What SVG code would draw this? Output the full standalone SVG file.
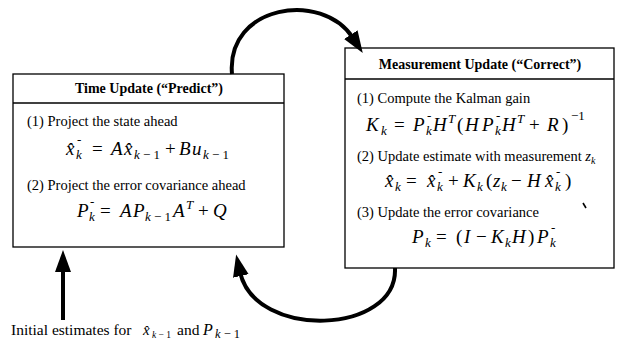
<svg xmlns="http://www.w3.org/2000/svg" width="617" height="343" viewBox="0 0 617 343">
<style>
.box{fill:#fff;stroke:#000;stroke-width:1.3}
.t{font-family:"Liberation Serif",serif;font-size:14.5px;fill:#000}
.h{font-family:"Liberation Serif",serif;font-size:14px;font-weight:bold;fill:#000;text-anchor:middle}
.f{font-family:"Liberation Serif",serif;font-size:19px;font-style:italic;fill:#000}
.n{font-style:normal}
.s{font-size:13px}
.m{font-size:13px;font-style:normal}
.arc{fill:none;stroke:#000;stroke-width:4}
</style>
<defs>
<marker id="ah" markerUnits="userSpaceOnUse" markerWidth="24" markerHeight="20" refX="4" refY="10" orient="auto">
<path d="M0,2 L22,10 L0,18 Z" fill="#000"/>
</marker>
</defs>
<rect width="617" height="343" fill="#fff"/>
<g id="time-update">
<rect class="box" x="13" y="74" width="271" height="173"/>
<line x1="13" y1="103" x2="284" y2="103" stroke="#000" stroke-width="1.3"/>
<text class="h" x="149" y="93">Time Update (“Predict”)</text>
<text class="t" x="27" y="126">(1) Project the state ahead</text>
<text class="f" y="155"><tspan x="66">x̂</tspan><tspan class="s" x="76" y="159">k</tspan><tspan class="m" x="77" y="144">-</tspan><tspan class="n" x="92" y="155">=</tspan><tspan x="111">A</tspan><tspan x="124">x̂</tspan><tspan class="s" x="134" y="159">k<tspan class="n"> − 1</tspan></tspan><tspan class="n" x="165" y="155">+</tspan><tspan x="179">B</tspan><tspan x="192">u</tspan><tspan class="s" x="203" y="159">k<tspan class="n"> − 1</tspan></tspan></text>
<text class="t" x="27" y="190">(2) Project the error covariance ahead</text>
<text class="f" y="217"><tspan x="77">P</tspan><tspan class="s" x="89" y="221">k</tspan><tspan class="m" x="90" y="206">-</tspan><tspan class="n" x="100" y="217">=</tspan><tspan x="120">A</tspan><tspan x="133">P</tspan><tspan class="s" x="145" y="221">k<tspan class="n"> − 1</tspan></tspan><tspan x="173" y="217">A</tspan><tspan class="s" x="186" y="209">T</tspan><tspan class="n" x="198" y="217">+</tspan><tspan x="213">Q</tspan></text>
</g>
<g id="measurement-update">
<rect class="box" x="345" y="48" width="269" height="220"/>
<line x1="345" y1="79" x2="614" y2="79" stroke="#000" stroke-width="1.3"/>
<text class="h" x="480" y="69">Measurement Update (“Correct”)</text>
<text class="t" x="357" y="103">(1) Compute the Kalman gain</text>
<text class="f" y="131"><tspan x="366">K</tspan><tspan class="s" x="381" y="135">k</tspan><tspan class="n" x="394" y="131">=</tspan><tspan x="413">P</tspan><tspan class="s" x="426" y="135">k</tspan><tspan class="m" x="427" y="120">-</tspan><tspan x="433" y="131">H</tspan><tspan class="s" x="448" y="123">T</tspan><tspan class="n" x="457" y="131">(</tspan><tspan x="465">H</tspan><tspan x="482">P</tspan><tspan class="s" x="495" y="135">k</tspan><tspan class="m" x="496" y="120">-</tspan><tspan x="502" y="131">H</tspan><tspan class="s" x="517" y="123">T</tspan><tspan class="n" x="529" y="131">+</tspan><tspan x="547">R</tspan><tspan class="n" x="562">)</tspan><tspan class="m" x="571" y="120" font-size="15">−1</tspan></text>
<text class="t" x="357" y="161">(2) Update estimate with measurement <tspan font-style="italic">z</tspan><tspan font-style="italic" font-size="10" dy="3">k</tspan></text>
<text class="f" y="187"><tspan x="385">x̂</tspan><tspan class="s" x="395" y="191">k</tspan><tspan class="n" x="406" y="187">=</tspan><tspan x="427">x̂</tspan><tspan class="s" x="437" y="191">k</tspan><tspan class="m" x="438" y="176">-</tspan><tspan class="n" x="448" y="187">+</tspan><tspan x="463">K</tspan><tspan class="s" x="477" y="191">k</tspan><tspan class="n" x="486" y="187">(</tspan><tspan x="493">z</tspan><tspan class="s" x="501" y="191">k</tspan><tspan class="n" x="511" y="187">−</tspan><tspan x="527">H</tspan><tspan x="545">x̂</tspan><tspan class="s" x="555" y="191">k</tspan><tspan class="m" x="556" y="176">-</tspan><tspan class="n" x="565" y="187">)</tspan></text>
<text class="t" x="357" y="217">(3) Update the error covariance</text>
<text class="f" y="243"><tspan x="412">P</tspan><tspan class="s" x="425" y="247">k</tspan><tspan class="n" x="436" y="243">=</tspan><tspan class="n" x="456">(</tspan><tspan x="464">I</tspan><tspan class="n" x="476">−</tspan><tspan x="491">K</tspan><tspan class="s" x="505" y="247">k</tspan><tspan x="512" y="243">H</tspan><tspan class="n" x="528">)</tspan><tspan x="537">P</tspan><tspan class="s" x="550" y="247">k</tspan><tspan class="m" x="551" y="232">-</tspan></text>
<line x1="583" y1="203" x2="586" y2="208" stroke="#000" stroke-width="1.6"/>
</g>
<g id="connectors">
<path class="arc" d="M232,74 C226,5 322,-10 353,38" marker-end="url(#ah)"/>
<path class="arc" d="M395,268 C398,335 255,340 240,272" marker-end="url(#ah)"/>
<path class="arc" d="M63,320 L63,268" marker-end="url(#ah)"/>
</g>
<g id="initial">
<text class="t" y="335" style="font-size:15.5px"><tspan x="11">Initial estimates for</tspan><tspan x="143" font-style="italic" font-size="15">x̂</tspan><tspan x="152" y="338" font-style="italic" font-size="9.5">k<tspan font-style="normal"> − 1</tspan></tspan><tspan x="177" y="335">and</tspan><tspan x="203" font-style="italic" font-size="16">P</tspan><tspan x="215" y="338" font-style="italic" font-size="12.5">k<tspan font-style="normal"> − 1</tspan></tspan></text>
</g>
</svg>
